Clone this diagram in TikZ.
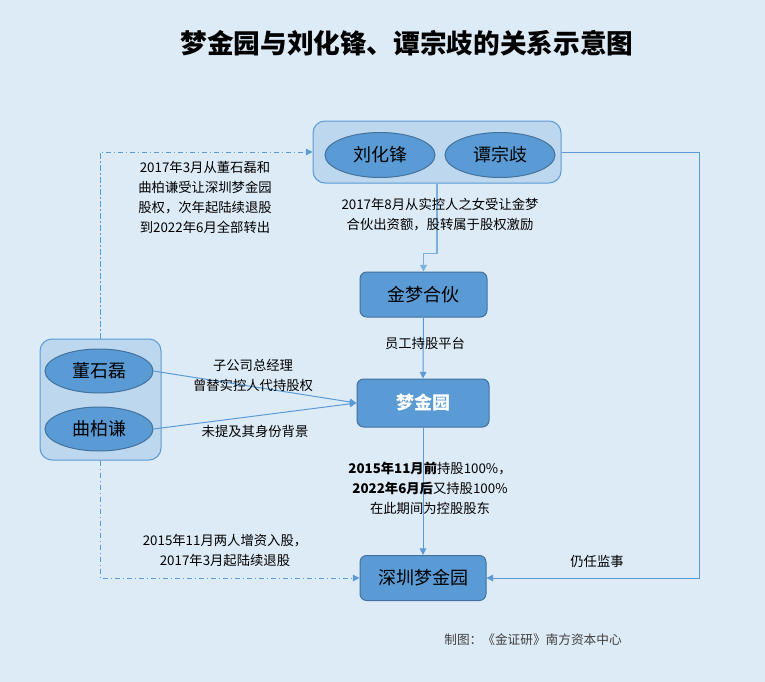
\documentclass[tikz,border=0pt]{standalone}
\usepackage{fontspec}
\setmainfont{Noto Sans CJK SC}
\usetikzlibrary{arrows.meta,shapes.geometric}

\definecolor{bgblue}{RGB}{221,235,247}
\definecolor{grpfill}{RGB}{189,215,238}
\definecolor{grpline}{RGB}{91,155,213}
\definecolor{boxfill}{RGB}{91,155,213}
\definecolor{boxline}{RGB}{65,113,156}
\definecolor{credit}{RGB}{64,64,64}

\tikzset{every picture/.style={line width=0.75pt}}
\tikzset{
  grp/.style={draw=grpline, fill=grpfill, rounded corners=9pt, inner sep=0pt},
  person/.style={ellipse, draw=boxline, fill=boxfill, inner sep=0pt, font=\fontsize{13.5}{16}\selectfont},
  firm/.style={draw=boxline, fill=boxfill, rounded corners=5pt, inner sep=0pt, font=\fontsize{13.5}{16}\selectfont},
  link/.style={draw=grpline, -{Triangle[length=5pt,width=5pt]}},
  note/.style={font=\fontsize{10}{15}\selectfont, align=center, inner sep=0.75pt},
}

\begin{document}
\begin{tikzpicture}[x=0.75pt,y=0.75pt,yscale=-1,xscale=1]
	%set diagram size 765 x 682
	\fill [bgblue] (0,0) rectangle (765,682);
	\useasboundingbox (0,0) rectangle (765,682);
	
	%Shape: Group boxes
	\node [grp, minimum width=186pt, minimum height=46.5pt] (founders) at (437,152) {};
	\node [grp, minimum width=90.75pt, minimum height=90.75pt] (agents) at (100.5,399.5) {};
	%Shape: Ellipses
	\node [person, minimum width=82.5pt, minimum height=33.75pt] (liu) at (380,155) {刘化锋};
	\node [person, minimum width=82.5pt, minimum height=33.75pt] (tan) at (500,155) {谭宗歧};
	\node [person, minimum width=81pt, minimum height=33pt] (dong) at (99,371) {董石磊};
	\node [person, minimum width=81pt, minimum height=33pt] (qu) at (99,429) {曲柏谦};
	%Shape: Company boxes
	\node [firm, minimum width=95.25pt, minimum height=33.75pt] (hehuo) at (423.5,294.5) {金梦合伙};
	\node [firm, minimum width=99pt, minimum height=36pt, text=white, font=\fontsize{13.5}{16}\selectfont\bfseries] (mjy) at (423,403) {梦金园};
	\node [firm, minimum width=94.5pt, minimum height=33.75pt] (szmjy) at (423,578) {深圳梦金园};
	
	%Straight Lines
	\draw [link, line width=1.2pt, draw=grpline!80] (founders.south) -- ++(0,70) -| (hehuo.north);
	\draw [link] (hehuo.south) -- (mjy.north);
	\draw [link] (mjy.south) -- (szmjy.north);
	\draw [link] (dong.east) -- (mjy.west);
	\draw [link] (qu.east) -- (mjy.west);
	\draw [link] (founders.east) -- ++(138,0) |- (szmjy.east);
	\draw [link, dash pattern={on 4pt off 2pt on 1pt off 2pt}] (agents.north) |- (founders.west);
	\draw [link, dash pattern={on 4pt off 2pt on 1pt off 2pt}] (agents.south) |- (szmjy.west);
	
	% Text Node
	\node [font=\fontsize{20}{24}\selectfont\bfseries] (title) at (407,43) {梦金园与刘化锋、谭宗歧的关系示意图};
	% Text Node
	\node [note] (transfer) at (205,197) {2017年3月从董石磊和\\曲柏谦受让深圳梦金园\\股权，次年起陆续退股\\到2022年6月全部转出};
	% Text Node
	\node [note] (incentive) at (440,215) {2017年8月从实控人之女受让金梦\\合伙出资额，股转属于股权激励};
	% Text Node
	\node [note] (platform) at (425,343) {员工持股平台};
	% Text Node
	\node [note] (proxy) at (253,375) {子公司总经理\\曾替实控人代持股权};
	% Text Node
	\node [note] (unknown) at (255,431) {未提及其身份背景};
	% Text Node
	\node [note] (holding) at (430,488) {\textbf{2015年11月前}持股100\%，\\\textbf{2022年6月后}又持股100\%\\在此期间为控股股东};
	% Text Node
	\node [note] (joined) at (225,550) {2015年11月两人增资入股，\\2017年3月起陆续退股};
	% Text Node
	\node [note] (supervisor) at (597,561) {仍任监事};
	% Text Node
	\node [note, text=credit, font=\fontsize{9.5}{12}\selectfont] (source) at (533,640) {制图：《金证研》南方资本中心};
	
\end{tikzpicture}
\end{document}
